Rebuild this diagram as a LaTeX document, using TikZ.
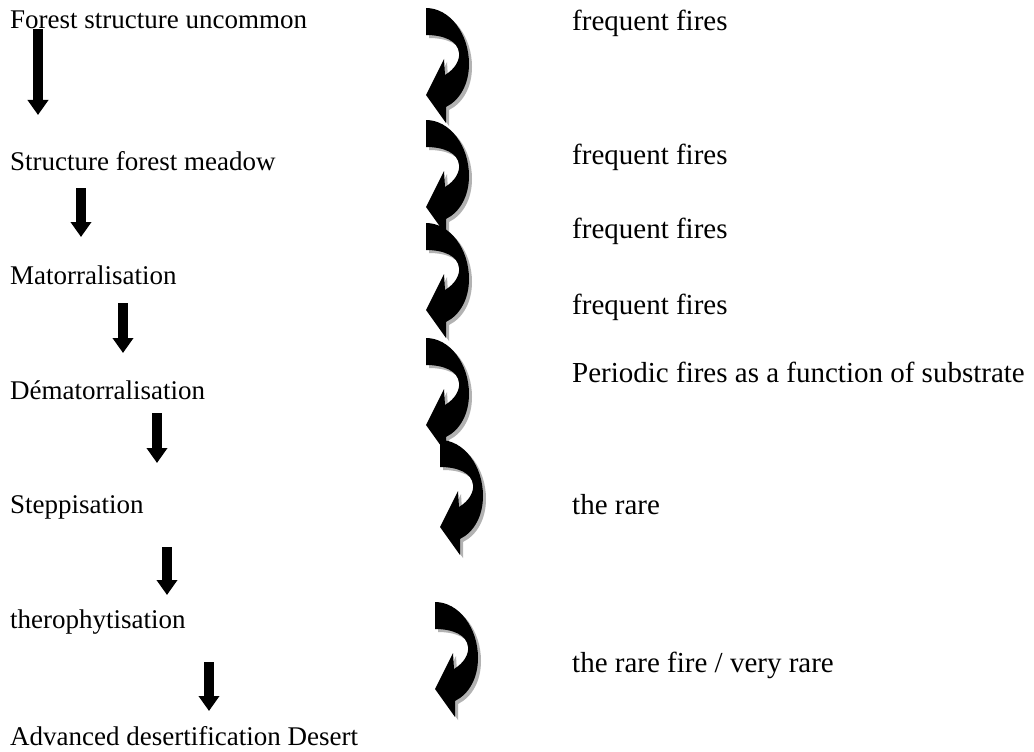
\documentclass[tikz,border=0pt]{standalone}
\usepackage{fontspec}
\setmainfont{Liberation Serif}
\usetikzlibrary{arrows.meta}
\begin{document}
\begin{tikzpicture}[x=1pt,y=-1pt,
  lefttext/.style={anchor=base west, inner sep=0pt, font=\fontsize{27}{30}\selectfont},
  righttext/.style={anchor=base west, inner sep=0pt, font=\fontsize{29}{32}\selectfont},
  downarrow/.style={line width=9.5pt, -{Triangle[width=20pt,length=15pt]}},
  curvedarrow/.pic={
    \fill[black!30, shift={(3,3)}] (0,0) .. controls (24,0) and (43,26) .. (43,56)
      .. controls (43,76) and (34,92) .. (20,99) -- (20,115) -- (0,87) -- (18,51) -- (19,67)
      .. controls (29,61) and (34,52) .. (33,45) .. controls (32,33) and (18,27) .. (0,27) -- cycle;
    \fill[black] (0,0) .. controls (24,0) and (43,26) .. (43,56)
      .. controls (43,76) and (34,92) .. (20,99) -- (20,115) -- (0,87) -- (18,51) -- (19,67)
      .. controls (29,61) and (34,52) .. (33,45) .. controls (32,33) and (18,27) .. (0,27) -- cycle;
  }]
\useasboundingbox[fill=white] (0,0) rectangle (1034,752);

% left column
\node[lefttext] (l1) at (10,29) {Forest structure uncommon};
\node[lefttext] (l2) at (10,170) {Structure forest meadow};
\node[lefttext] (l3) at (10,284) {Matorralisation};
\node[lefttext] (l4) at (10,399) {Dématorralisation};
\node[lefttext] (l5) at (10,513) {Steppisation};
\node[lefttext] (l6) at (10,628) {therophytisation};
\node[lefttext] (l7) at (10,745) {Advanced desertification Desert};

% down arrows
\coordinate (a1s) at (38,29);  \coordinate (a1e) at (38,115);
\coordinate (a2s) at (81,188); \coordinate (a2e) at (81,237);
\coordinate (a3s) at (123,303); \coordinate (a3e) at (123,353);
\coordinate (a4s) at (157,413); \coordinate (a4e) at (157,463);
\coordinate (a5s) at (167,547); \coordinate (a5e) at (167,595);
\coordinate (a6s) at (209,662); \coordinate (a6e) at (209,711);
\draw[downarrow] (a1s) -- (a1e);
\draw[downarrow] (a2s) -- (a2e);
\draw[downarrow] (a3s) -- (a3e);
\draw[downarrow] (a4s) -- (a4e);
\draw[downarrow] (a5s) -- (a5e);
\draw[downarrow] (a6s) -- (a6e);

% curved arrows
\pic at (426,8) {curvedarrow};
\pic at (426,120) {curvedarrow};
\pic at (426,223) {curvedarrow};
\pic at (426,338) {curvedarrow};
\pic at (440,440) {curvedarrow};
\pic at (435,602) {curvedarrow};

% right column
\node[righttext] (r1) at (572,31) {frequent fires};
\node[righttext] (r2) at (572,164) {frequent fires};
\node[righttext] (r3) at (572,238) {frequent fires};
\node[righttext] (r4) at (572,314) {frequent fires};
\node[righttext] (r5) at (572,382) {Periodic fires as a function of substrate};
\node[righttext] (r6) at (572,514) {the rare};
\node[righttext] (r7) at (572,672) {the rare fire / very rare};
\end{tikzpicture}
\end{document}
